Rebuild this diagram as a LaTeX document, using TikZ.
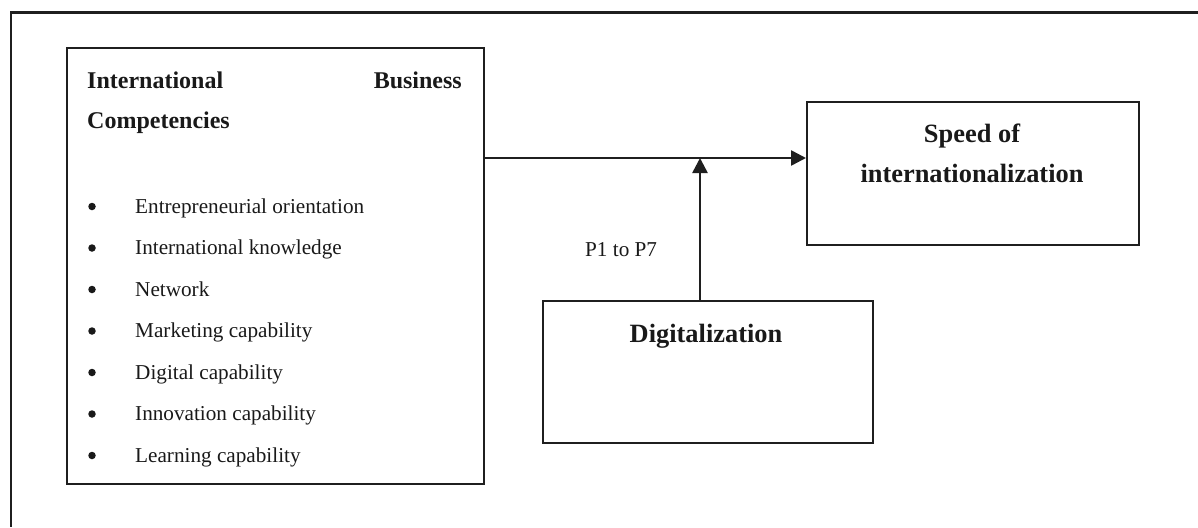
\documentclass[tikz,border=0pt]{standalone}
\usepackage{fontspec}
\setmainfont{Liberation Serif}
\usetikzlibrary{arrows.meta}
\begin{document}
\begin{tikzpicture}[x=1pt,y=-1pt,
  frame/.style={draw=black!88,line width=2.4pt},
  boxstyle/.style={draw=black!88,line width=2.4pt,inner sep=0pt,anchor=north west},
  conn/.style={draw=black!88,line width=2.6pt,-{Triangle[length=15pt,width=15pt]}},
  item/.style={font=\fontsize{21.2}{25}\selectfont,anchor=base west,inner sep=0pt,text=black!90},
  bul/.style={circle,fill=black!90,minimum size=7.5pt,inner sep=0pt},
  ttl/.style={font=\fontsize{24}{28}\selectfont\bfseries,inner sep=0pt,text=black!90},
  bigttl/.style={font=\fontsize{26.4}{30}\selectfont\bfseries,inner sep=0pt,anchor=base,text=black!90}]
\useasboundingbox (0,0) rectangle (1198,527);
% outer frame (top and left edges)
\coordinate (ftr) at (1198,12.5);
\coordinate (ftl) at (11,12.5);
\coordinate (fbl) at (11,527);
\draw[frame] (ftr) -- (ftl) -- (fbl);
% boxes
\node[boxstyle,minimum width=417,minimum height=436] (ibc) at (66,47) {};
\node[boxstyle,minimum width=332,minimum height=143] (speed) at (806,101) {};
\node[boxstyle,minimum width=330,minimum height=142] (dig) at (542,300) {};
% left box title
\node[ttl,anchor=base west] (t1) at (87,88) {International};
\node[ttl,anchor=base east] (t2) at (462,88) {Business};
\node[ttl,anchor=base west] (t3) at (87,128) {Competencies};
% items
\foreach \y/\txt [count=\i] in {213/Entrepreneurial orientation,254.5/International knowledge,296/Network,337.5/Marketing capability,379/Digital capability,420.5/Innovation capability,462/Learning capability}{
  \node[bul] (b\i) at (92,\y-6.5) {};
  \node[item] (it\i) at (135,\y) {\txt};
}
% speed box text
\node[bigttl] (s1) at (972,142) {Speed of};
\node[bigttl] (s2) at (972,182) {internationalization};
% digitalization text
\node[bigttl] (d1) at (706,342) {Digitalization};
% label
\node[item] (p) at (585,256) {P1 to P7};
% connectors
\coordinate (j) at (700,158);
\draw[conn] (ibc.east |- j) -- (speed.west |- j);
\draw[conn] (dig.north -| j) -- (j);
\end{tikzpicture}
\end{document}
